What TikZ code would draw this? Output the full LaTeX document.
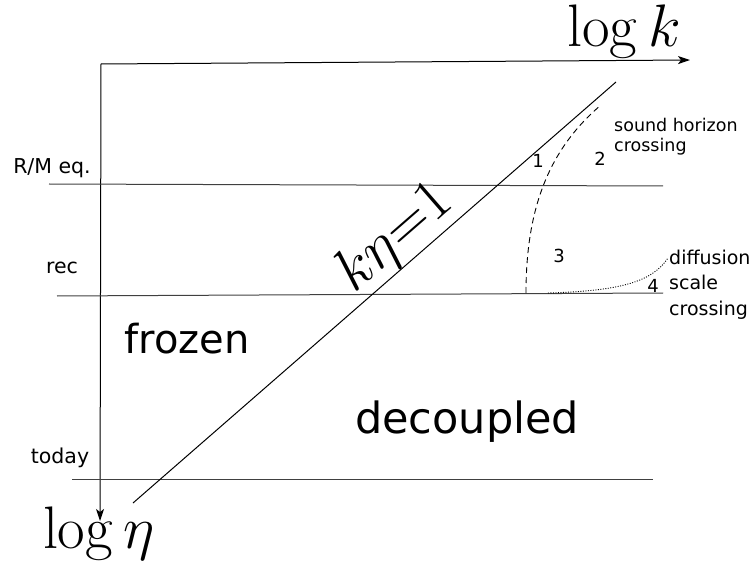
\documentclass[tikz,border=0pt]{standalone}
\usepackage{fix-cm}
\usepackage[no-math]{fontspec}
\newfontfamily\dejavu{DejaVu Sans}
\usetikzlibrary{arrows.meta}

\begin{document}
\begin{tikzpicture}[x=1pt, y=-1pt,
    axis/.style={-{Stealth[length=12pt, width=8pt, inset=3pt]}, line width=1pt},
    epoch/.style={line width=1pt, black!75},
    horizon/.style={line width=0.9pt, dash pattern=on 6pt off 4pt},
    diffusion/.style={line width=0.9pt, dash pattern=on 1pt off 1.5pt},
    axlabel/.style={font=\fontsize{60}{64}\selectfont, inner sep=0pt, anchor=base},
    epochlabel/.style={font=\dejavu\fontsize{20.5}{24}\selectfont, inner sep=0pt, anchor=base},
    region/.style={font=\dejavu\fontsize{41}{48}\selectfont, inner sep=0pt, anchor=base},
    note/.style={font=\dejavu\fontsize{18}{24}\selectfont, inner sep=0pt, align=left, anchor=north west},
    num/.style={font=\dejavu\fontsize{18}{22}\selectfont, inner sep=0pt, anchor=base}
  ]
    \useasboundingbox (0,0) rectangle (750,564);

    \coordinate (origin) at (101,64);
    \coordinate (kend) at (690,60);
    \coordinate (etaend) at (100,521);
    \draw[axis] (origin) -- (kend);
    \draw[axis] (origin) -- (etaend);
    \node[axlabel] (logk) at (624,47) {$\log k$};
    \node[axlabel] (logeta) at (99,548) {$\log \eta$};

    \draw[epoch] (49,184) -- (663,186);
    \draw[epoch] (57,296) -- (663,293);
    \draw[epoch] (72,479) -- (653,479);
    \node[epochlabel] (rm) at (52,174) {R/M eq.};
    \node[epochlabel] (rec) at (62,273) {rec};
    \node[epochlabel] (today) at (60,463) {today};

    \draw[line width=1pt] (133,503) -- node[sloped, pos=0.58, anchor=south, inner sep=0.5pt,
      font=\fontsize{60}{64}\selectfont] (keta) {$k\eta{=}1$} (616,82);

    \draw[horizon] (526,293) .. controls (526,210) and (548,150) .. (601,105);
    \draw[diffusion] (548,293) .. controls (620,291) and (652,282) .. (668,258);

    \node[num] (n1) at (538,168) {1};
    \node[num] (n2) at (600,166) {2};
    \node[num] (n3) at (559,262) {3};
    \node[num] (n4) at (653,292) {4};

    \node[note, font=\dejavu\fontsize{17.5}{20}\selectfont] (sound) at (614,118) {sound horizon\\crossing};
    \node[note, font=\dejavu\fontsize{19}{25.5}\selectfont] (diff) at (669,249.5) {diffusion\\scale\\crossing};

    \node[region, font=\dejavu\fontsize{40}{48}\selectfont] (frozen) at (187,353) {frozen};
    \node[region, font=\dejavu\fontsize{43}{50}\selectfont] (decoupled) at (467,433) {decoupled};
  \end{tikzpicture}
\end{document}
